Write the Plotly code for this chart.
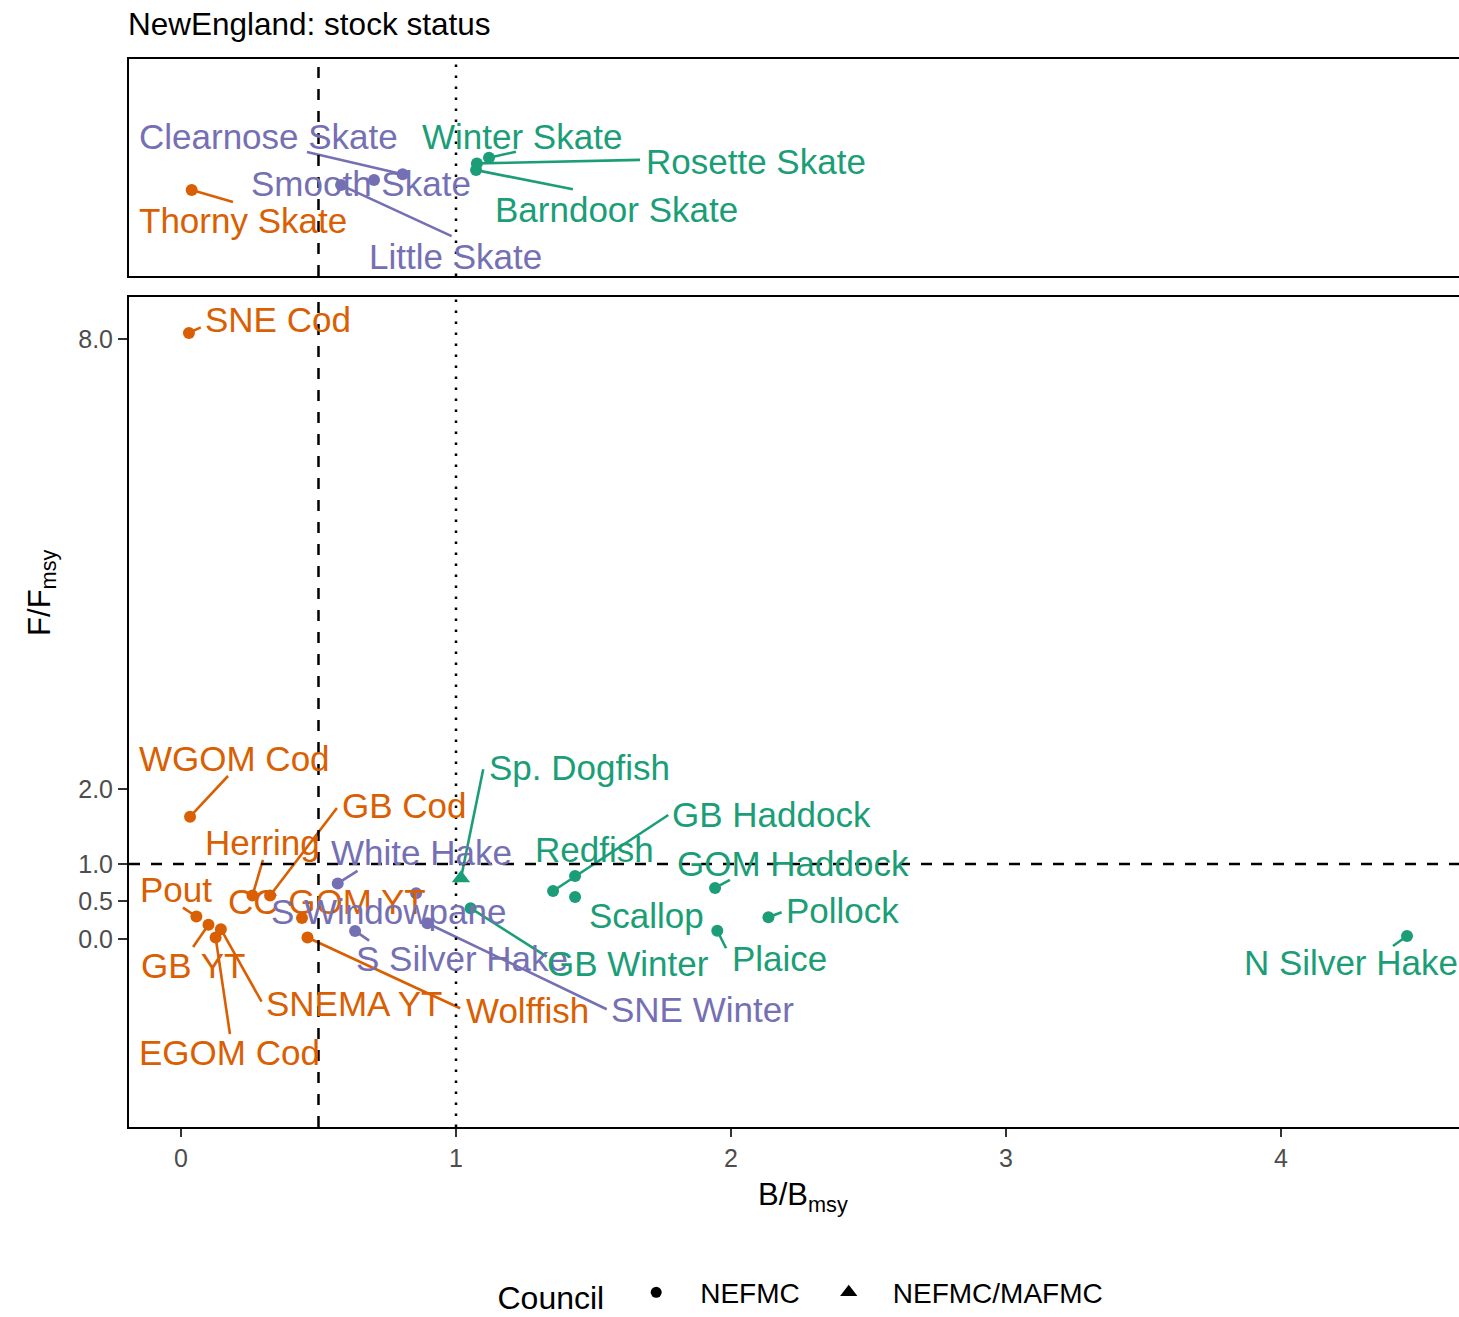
import plotly.graph_objects as go

# ---- stocks with an F/Fmsy estimate (lower panel) ----
stocks = ["SNE Cod", "WGOM Cod", "Herring", "GB Cod", "CC GOM YT", "Wolffish",
          "Pout", "GB YT", "SNEMA YT", "EGOM Cod", "White Hake", "S Windowpane",
          "S Silver Hake", "SNE Winter", "Sp. Dogfish", "GB Winter", "GB Haddock",
          "Redfish", "Scallop", "GOM Haddock", "Plaice", "Pollock", "N Silver Hake"]
b_bmsy = [0.029, 0.033, 0.26, 0.324, 0.44, 0.46,
          0.056, 0.10, 0.145, 0.126, 0.57, 0.855,
          0.633, 0.896, 1.018, 1.053, 1.353,
          1.433, 1.433, 1.942, 1.95, 2.136, 4.458]
f_fmsy = [8.08, 1.63, 0.58, 0.58, 0.28, 0.02,
          0.30, 0.19, 0.13, 0.02, 0.74, 0.61,
          0.107, 0.21, 0.81, 0.41, 0.64,
          0.84, 0.56, 0.68, 0.11, 0.29, 0.04]
council = ["NEFMC"] * 14 + ["NEFMC/MAFMC"] + ["NEFMC"] * 8

# ---- skates: F unknown (upper panel), spread vertically ----
skates = ["Thorny Skate", "Little Skate", "Smooth Skate", "Clearnose Skate",
          "Winter Skate", "Rosette Skate", "Barndoor Skate"]
skate_b = [0.039, 0.582, 0.702, 0.806, 1.12, 1.076, 1.073]
skate_pos = [0.396, 0.419, 0.442, 0.469, 0.545, 0.519, 0.488]

y_ticks = [0, 0.5, 1, 2, 8]
y_ticktext = ["0.0", "0.5", "1.0", "2.0", "8.0"]
x_ticks = [0, 1, 2, 3, 4]

# repelled label placement: name -> (label centre x, label centre y, leader end or None)
label_place = {
    "SNE Cod": ((0.353, 8.26), (0.072, 8.155)),
    "WGOM Cod": ((0.193, 2.40), (0.171, 2.173)),
    "Herring": ((0.295, 1.285), (0.298, 1.053)),
    "GB Cod": ((0.813, 1.775), (0.567, 1.747)),
    "CC GOM YT": ((0.531, 0.495), None),
    "Wolffish": ((1.26, -0.955), (1.015, -0.924)),
    "Pout": ((-0.018, 0.655), (0.007, 0.417)),
    "GB YT": ((0.042, -0.355), (0.044, -0.107)),
    "SNEMA YT": ((0.629, -0.865), (0.293, -0.836)),
    "EGOM Cod": ((0.175, -1.515), (0.178, -1.267)),
    "White Hake": ((0.873, 1.15), (0.642, 0.907)),
    "S Windowpane": ((0.755, 0.365), None),
    "S Silver Hake": ((1.022, -0.265), (0.684, -0.023)),
    "SNE Winter": ((1.898, -0.945), (1.548, -0.937)),
    "Sp. Dogfish": ((1.449, 2.28), (1.099, 2.262)),
    "GB Winter": ((1.625, -0.33), (1.33, -0.236)),
    "GB Haddock": ((2.147, 1.655), (1.772, 1.653)),
    "Redfish": ((1.504, 1.19), None),
    "Scallop": ((1.691, 0.31), None),
    "GOM Haddock": ((2.227, 1.005), (1.996, 0.787)),
    "Plaice": ((2.176, -0.265), (1.982, -0.124)),
    "Pollock": ((2.407, 0.375), (2.184, 0.356)),
    "N Silver Hake": ((4.253, -0.32), (4.407, -0.093)),
    "Thorny Skate": ((0.225, 0.255), (0.189, 0.341)),
    "Little Skate": ((0.998, 0.09), (0.984, 0.184)),
    "Smooth Skate": ((0.653, 0.426), None),
    "Clearnose Skate": ((0.318, 0.642), (0.458, 0.571)),
    "Winter Skate": ((1.24, 0.642), (1.218, 0.573)),
    "Rosette Skate": ((2.089, 0.527), (1.669, 0.535)),
    "Barndoor Skate": ((1.585, 0.306), (1.425, 0.40)),
}

ORANGE, PURPLE, GREEN = "#D95F02", "#7570B3", "#1B9E77"
FONT = "Liberation Sans, Arial, sans-serif"
LABEL_SIZE = 35


def status_colour(b):
    if b < 0.5:
        return ORANGE
    if b < 1:
        return PURPLE
    return GREEN


fig = go.Figure()
annotations = []


def add_panel(names, bs, ys, xr, yr, symbols):
    # leader segments, one trace per colour
    seg = {}
    for n, b, y in zip(names, bs, ys):
        (lx, ly), end = label_place[n]
        col = status_colour(b)
        if end is not None:
            sx, sy = seg.setdefault(col, ([], []))
            sx += [b, end[0], None]
            sy += [y, end[1], None]
        annotations.append(dict(
            x=lx, y=ly, xref=xr, yref=yr, text=n, showarrow=False,
            xanchor="center", yanchor="middle",
            font=dict(family=FONT, size=LABEL_SIZE, color=col)))
    for col, (sx, sy) in seg.items():
        fig.add_trace(go.Scatter(x=sx, y=sy, mode="lines", xaxis=xr, yaxis=yr,
                                 line=dict(color=col, width=2.6), showlegend=False,
                                 hoverinfo="skip"))
    fig.add_trace(go.Scatter(
        x=bs, y=ys, mode="markers", xaxis=xr, yaxis=yr, showlegend=False,
        marker=dict(color=[status_colour(b) for b in bs], opacity=1,
                    size=[16 if s == "triangle-up" else 12 for s in symbols],
                    symbol=symbols, line=dict(width=0)),
        hovertext=names))


add_panel(stocks, b_bmsy, f_fmsy, "x", "y",
          ["triangle-up" if c == "NEFMC/MAFMC" else "circle" for c in council])
add_panel(skates, skate_b, skate_pos, "x2", "y2", ["circle"] * len(skates))

# legend keys for council shape
fig.add_trace(go.Scatter(x=[None], y=[None], mode="markers", name="NEFMC",
                         marker=dict(color="black", size=11, symbol="circle")))
fig.add_trace(go.Scatter(x=[None], y=[None], mode="markers", name="NEFMC/MAFMC",
                         marker=dict(color="black", size=15, symbol="triangle-up")))

# titles
annotations.append(dict(text="NewEngland: stock status", xref="paper", yref="paper",
                        x=-0.002, y=1.0328, xanchor="left", yanchor="middle",
                        showarrow=False, font=dict(family=FONT, size=31.5, color="black")))
annotations.append(dict(text="F/F<sub>msy</sub>", xref="paper", yref="paper",
                        x=-0.0655, y=0.5, xanchor="center", yanchor="middle",
                        textangle=-90, showarrow=False,
                        font=dict(family=FONT, size=31, color="black")))
annotations.append(dict(text="B/B<sub>msy</sub>", xref="paper", yref="paper",
                        x=0.507, y=-0.066, xanchor="center", yanchor="middle",
                        showarrow=False, font=dict(family=FONT, size=31, color="black")))

shapes = []
for xr, yr in (("x", "y domain"), ("x2", "y2 domain")):
    shapes.append(dict(type="line", xref=xr, yref=yr, x0=0.5, x1=0.5, y0=0, y1=1,
                       line=dict(color="black", width=2.5, dash="11px,11px")))
    shapes.append(dict(type="line", xref=xr, yref=yr, x0=1, x1=1, y0=0, y1=1,
                       line=dict(color="black", width=2.5, dash="2.5px,8.5px")))
shapes.append(dict(type="line", xref="x domain", yref="y", x0=0, x1=1, y0=1, y1=1,
                   line=dict(color="black", width=2.5, dash="11px,11px")))

X_RANGE = [-0.189, 4.647]
TICKFONT = dict(family=FONT, size=25, color="#4D4D4D")

fig.update_layout(
    width=1459, height=1317,
    margin=dict(l=129, r=0, t=59, b=190, autoexpand=False),
    paper_bgcolor="white", plot_bgcolor="white",
    font=dict(family=FONT, color="black"),
    xaxis=dict(domain=[0, 1], anchor="y", range=X_RANGE, tickvals=x_ticks,
               ticks="outside", ticklen=8, tickwidth=2, tickcolor="#333333",
               tickfont=TICKFONT, automargin=False,
               showline=True, linecolor="black", linewidth=2, mirror=True,
               showgrid=False, zeroline=False),
    yaxis=dict(domain=[0, 0.7772], anchor="x", range=[-2.507, 8.56],
               tickvals=y_ticks, ticktext=y_ticktext, automargin=False,
               ticks="outside", ticklen=9, tickwidth=2, tickcolor="#333333",
               tickfont=TICKFONT,
               showline=True, linecolor="black", linewidth=2,
               showgrid=False, zeroline=False),
    xaxis2=dict(domain=[0, 1], anchor="y2", range=X_RANGE, matches="x",
                showticklabels=False, ticks="", showline=True, linecolor="black",
                linewidth=2, mirror=True, showgrid=False, zeroline=False),
    yaxis2=dict(domain=[0.7968, 1], anchor="x2", range=[0, 1],
                showticklabels=False, ticks="", showline=True, linecolor="black",
                linewidth=2, showgrid=False, zeroline=False),
    annotations=annotations,
    shapes=shapes,
    legend=dict(orientation="h", x=0.506, xanchor="center", y=-0.156, yanchor="middle",
                title=dict(text="Council", side="left",
                           font=dict(family=FONT, size=32, color="black")),
                font=dict(family=FONT, size=28, color="black"),
                itemsizing="trace", itemwidth=78, bgcolor="rgba(0,0,0,0)"),
)

fig.write_html("out.html")
